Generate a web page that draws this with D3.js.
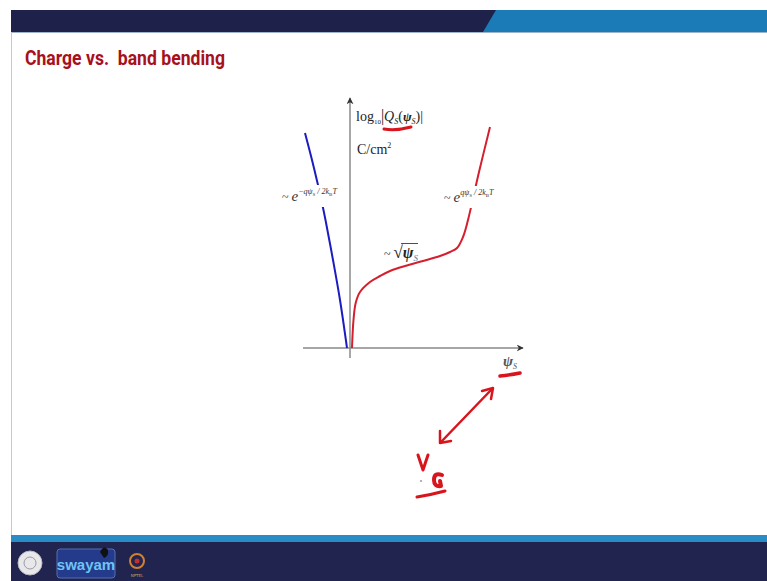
<!DOCTYPE html>
<html>
<head>
<meta charset="utf-8">
<script src="https://cdn.jsdelivr.net/npm/d3@7"></script>
<style>
  html, body { margin: 0; padding: 0; background: #fff; }
  svg { display: block; }
</style>
</head>
<body>
<svg id="chart" width="767" height="581"></svg>
<script>
// Surface potential ψS (arbitrary units) and log10|QS| for each branch
const accumPsi = [-0.45, -0.385, -0.32, -0.28, -0.245, -0.17, -0.10, -0.03];
const accumLogQ = [2.15, 1.90, 1.63, 1.45, 1.28, 0.88, 0.48, 0.00];

const deplPsi = [0.02, 0.035, 0.057, 0.10, 0.20, 0.30, 0.40, 0.55, 0.73, 0.90, 1.00, 1.07, 1.13, 1.18, 1.29, 1.40];
const deplLogQ = [0.00, 0.28, 0.45, 0.56, 0.66, 0.72, 0.77, 0.82, 0.87, 0.92, 0.96, 1.00, 1.11, 1.28, 1.76, 2.21];

const xDomain = [-0.47, 1.73];
const yDomain = [-0.1, 2.5];

const svg = d3.select("#chart");

// ---- slide frame ----
svg.append("rect").attr("x", 11).attr("y", 10).attr("width", 756).attr("height", 22).attr("fill", "#1e2149");
svg.append("path").attr("d", "M496,10 L767,10 L767,32 L483,32 Z").attr("fill", "#1b7bb6");
svg.append("line").attr("x1", 11).attr("x2", 767).attr("y1", 32.5).attr("y2", 32.5).attr("stroke", "#9fb4c8").attr("stroke-width", 1);
svg.append("line").attr("x1", 11.5).attr("x2", 11.5).attr("y1", 32).attr("y2", 536).attr("stroke", "#c8c8c8").attr("stroke-width", 1);

svg.append("rect").attr("x", 11).attr("y", 535).attr("width", 756).attr("height", 7).attr("fill", "#2a8cc6");
svg.append("rect").attr("x", 11).attr("y", 542).attr("width", 756).attr("height", 39).attr("fill", "#20244f");

// footer logos
const logos = svg.append("g");
logos.append("circle").attr("cx", 30).attr("cy", 563).attr("r", 12).attr("fill", "#e8e8ea").attr("stroke", "#b8b8c0");
logos.append("circle").attr("cx", 30).attr("cy", 563).attr("r", 6).attr("fill", "none").attr("stroke", "#9a9aa6");
logos.append("rect").attr("x", 57).attr("y", 549).attr("width", 58).attr("height", 29).attr("rx", 3).attr("fill", "#243a8a").attr("stroke", "#5070b0");
logos.append("text").attr("x", 86).attr("y", 570).attr("text-anchor", "middle")
  .attr("font-family", "Liberation Sans Narrow, Arial Narrow, sans-serif").attr("font-weight", "bold")
  .attr("font-size", 15).attr("fill", "#6ec4f4").text("swayam");
logos.append("path").attr("d", "M100,552 q4,-8 8,-2 q1,6 -4,8 z").attr("fill", "#111");
logos.append("circle").attr("cx", 137).attr("cy", 561).attr("r", 7).attr("fill", "none").attr("stroke", "#d08030").attr("stroke-width", 2);
logos.append("circle").attr("cx", 137).attr("cy", 561).attr("r", 2.5).attr("fill", "#c03030");
logos.append("text").attr("x", 137).attr("y", 577).attr("text-anchor", "middle")
  .attr("font-family", "DejaVu Sans, sans-serif").attr("font-size", 4).attr("fill", "#d0a060").text("NPTEL");

// ---- title ----
svg.append("text").attr("x", 25).attr("y", 65)
  .attr("font-family", "Liberation Sans Narrow, Arial Narrow, Roboto, sans-serif")
  .attr("font-weight", "bold").attr("font-size", 21).attr("fill", "#a8101c")
  .attr("textLength", 200).attr("lengthAdjust", "spacingAndGlyphs")
  .attr("xml:space", "preserve")
  .text("Charge vs.  band bending");

// ---- scales ----
const x = d3.scaleLinear().domain(xDomain).range([303, 523]);
const y = d3.scaleLinear().domain(yDomain).range([358, 98]);

// arrow marker
const defs = svg.append("defs");
defs.append("marker").attr("id", "axhead").attr("viewBox", "0 0 10 10")
  .attr("refX", 9).attr("refY", 5).attr("markerWidth", 7).attr("markerHeight", 7)
  .attr("markerUnits", "userSpaceOnUse").attr("orient", "auto")
  .append("path").attr("d", "M0,0 L10,5 L0,10 L3,5 Z").attr("fill", "#333");

// axes
svg.append("line").attr("x1", x(xDomain[0])).attr("x2", x(xDomain[1]))
  .attr("y1", y(0)).attr("y2", y(0))
  .attr("stroke", "#8a8a8a").attr("stroke-width", 1.5).attr("marker-end", "url(#axhead)");
svg.append("line").attr("x1", x(0)).attr("x2", x(0))
  .attr("y1", y(yDomain[0])).attr("y2", y(yDomain[1]))
  .attr("stroke", "#8a8a8a").attr("stroke-width", 1.5).attr("marker-end", "url(#axhead)");

// curves
const line = d3.line().x(d => x(d[0])).y(d => y(d[1])).curve(d3.curveCatmullRom.alpha(0.5));
svg.append("path").datum(d3.zip(accumPsi, accumLogQ)).attr("d", line)
  .attr("fill", "none").attr("stroke", "#1c1cc0").attr("stroke-width", 2);
svg.append("path").datum(d3.zip(deplPsi, deplLogQ)).attr("d", line)
  .attr("fill", "none").attr("stroke", "#d51f2e").attr("stroke-width", 2);

// ---- labels ----
const serif = "Liberation Serif, Times New Roman, serif";
function label(g, xPos, yPos, parts, anchor) {
  const t = g.append("text").attr("x", xPos).attr("y", yPos)
    .attr("font-family", serif).attr("fill", "#222").attr("text-anchor", anchor || "start");
  parts.forEach(p => {
    const s = t.append("tspan").text(p.t).attr("font-size", p.s || 13);
    if (p.dy) s.attr("dy", p.dy);
    if (p.i) s.attr("font-style", "italic");
    if (p.b) s.attr("font-weight", "bold");
    if (p.c) s.attr("fill", p.c);
  });
  return t;
}

// exponential-branch labels sit on white boxes that break the curves
function boxedLabel(cx, cy, w, parts) {
  const g = svg.append("g");
  g.append("rect").attr("x", cx - w / 2).attr("y", cy - 11).attr("width", w).attr("height", 22).attr("fill", "#fff");
  label(g, cx - w / 2, cy + 5, parts).attr("fill", "#333");
}
boxedLabel(308, 196, 52, [
  { t: "~ ", s: 12 }, { t: "e", s: 15, i: true },
  { t: "−qψ", s: 8, i: true, dy: -7 }, { t: "S", s: 5, dy: 2 }, { t: " / 2k", s: 8, i: true, dy: -2 }, { t: "B", s: 5, dy: 2 }, { t: "T", s: 8, i: true, dy: -2 }
]);
boxedLabel(470, 197, 52, [
  { t: "~ ", s: 12 }, { t: "e", s: 15, i: true },
  { t: "qψ", s: 8, i: true, dy: -7 }, { t: "S", s: 5, dy: 2 }, { t: " / 2k", s: 8, i: true, dy: -2 }, { t: "B", s: 5, dy: 2 }, { t: "T", s: 8, i: true, dy: -2 }
]);

// square-root label
const sq = svg.append("g");
label(sq, 384, 258, [{ t: "~ ", s: 12 }, { t: "√", s: 17 }, { t: "ψ", s: 16, b: true, i: true }, { t: "S", s: 9, i: true, dy: 3, c: "#4a7a9a" }]);
sq.append("line").attr("x1", 401).attr("x2", 418).attr("y1", 243.5).attr("y2", 243.5).attr("stroke", "#222").attr("stroke-width", 0.8);

// y-axis title
const yt = svg.append("g");
label(yt, 356, 121, [
  { t: "log", s: 14 }, { t: "10", s: 7, dy: 3 }, { t: "|", s: 16, dy: -3 },
  { t: "Q", s: 14, i: true }, { t: "S", s: 8, i: true, dy: 3 }, { t: "(", s: 14, dy: -3 },
  { t: "ψ", s: 13, b: true, i: true }, { t: "S", s: 8, i: true, dy: 3 }, { t: ")|", s: 14, dy: -3 }
]);
label(yt, 357, 154, [{ t: "C/cm", s: 14 }, { t: "2", s: 8, dy: -6 }]);

// x-axis title
label(svg.append("g"), 503, 366, [{ t: "ψ", s: 15, b: true, i: true, c: "#555" }, { t: "S", s: 8, i: true, dy: 3, c: "#555" }]);

// ---- handwritten pen annotations ----
const pen = svg.append("g").attr("fill", "none").attr("stroke", "#d8141c")
  .attr("stroke-linecap", "round").attr("stroke-linejoin", "round");
pen.append("path").attr("d", "M384,129 Q396,131 411,127").attr("stroke-width", 3);
pen.append("path").attr("d", "M500,376 Q510,375 520,373").attr("stroke-width", 3.5);
pen.append("path").attr("d", "M492,389 L441,442").attr("stroke-width", 2.5);
pen.append("path").attr("d", "M482,391 L493,388 L491,399").attr("stroke-width", 2.5);
pen.append("path").attr("d", "M440,431 L440,443 L451,441").attr("stroke-width", 2.5);
pen.append("path").attr("d", "M418,455 L423,470 L428,455").attr("stroke-width", 3);
pen.append("path").attr("d", "M442,475 Q434,472 434,480 Q434,487 441,486 L440,481").attr("stroke-width", 4);
pen.append("path").attr("d", "M417,497 Q430,495 445,491").attr("stroke-width", 3);
svg.append("circle").attr("cx", 421).attr("cy", 481).attr("r", 0.8).attr("fill", "#555");
</script>
</body>
</html>
